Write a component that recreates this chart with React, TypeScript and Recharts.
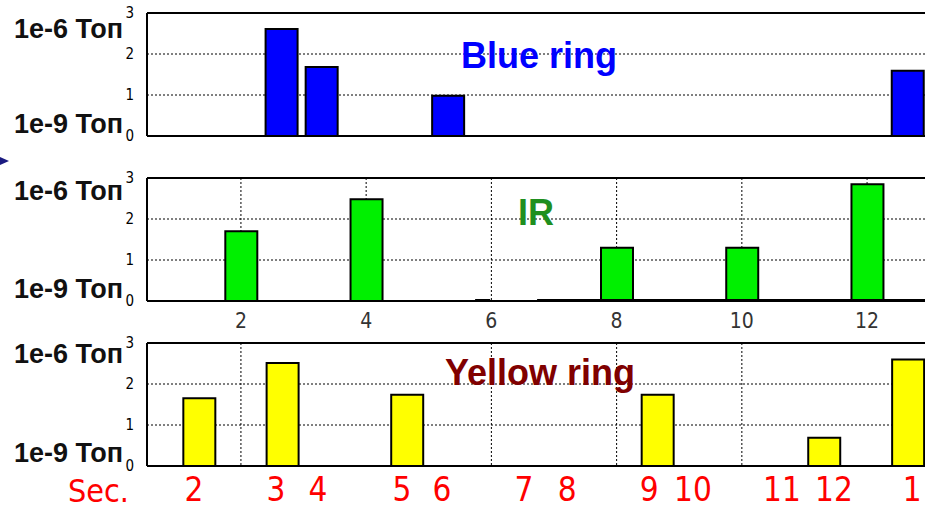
import React from "react";
import { BarChart, Bar, XAxis, YAxis, CartesianGrid, ReferenceLine } from "recharts";

// sector positions (x) and pressure readings (y)
const blueSectors = [2.65, 3.29, 5.31, 12.65];
const blueValues = [2.61, 1.68, 0.98, 1.59];
const irSectors = [2, 4, 8, 10, 12];
const irValues = [1.7, 2.48, 1.3, 1.3, 2.85];
const yellowSectors = [1.33, 2.66, 4.65, 8.65, 11.31, 12.65];
const yellowValues = [1.65, 2.51, 1.74, 1.74, 0.69, 2.6];

const yTicks = [0, 1, 2, 3];
const irTicks = [2, 4, 6, 8, 10, 12];
const sectorTicks = [1.25, 2.56, 3.23, 4.57, 5.21, 6.52, 7.21, 8.52, 9.22, 10.64, 11.47, 12.72];
const sectorLabels = ["2", "3", "4", "5", "6", "7", "8", "9", "10", "11", "12", "1"];
const gridAll = [2, 4, 6, 8, 10, 12];
const gridYellow = [2, 6, 8, 10];
const irBaseSegments = [
  [5.74, 5.98],
  [6.73, 13.5],
];

const narrow = "'Liberation Sans Narrow', 'Arial Narrow', 'DejaVu Sans Condensed', sans-serif";
const sans = "'Liberation Sans', Arial, sans-serif";
const xDomain = [0.5, 13.5];

const toRows = (xs: number[], ys: number[]) => xs.map((x, i) => ({ x, v: ys[i] }));

type PanelProps = {
  rows: { x: number; v: number }[];
  fill: string;
  grid: number[];
  top: number;
  height: number;
  kind: "none" | "ir" | "sector";
  children?: React.ReactNode;
};

function Panel({ rows, fill, grid, top, height, kind, children }: PanelProps) {
  // plot area is always 13px from the top and 123px tall
  const xAxisHeight = height - 13 - 123;
  return (
    <div style={{ position: "absolute", left: 0, top }}>
      <BarChart width={961} height={height} data={rows} margin={{ top: 13, right: 0, bottom: 0, left: 0 }}>
        <CartesianGrid
          stroke="#000"
          strokeDasharray="2 2"
          horizontalValues={[1, 2]}
          verticalValues={grid}
        />
        <XAxis
          dataKey="x"
          type="number"
          domain={xDomain}
          allowDataOverflow
          height={xAxisHeight}
          axisLine={{ stroke: "#000", strokeWidth: 2 }}
          tickLine={false}
          interval={0}
          ticks={kind === "ir" ? irTicks : kind === "sector" ? sectorTicks : []}
          tick={
            kind === "none"
              ? false
              : kind === "ir"
              ? { fill: "#333", fontSize: 21, fontFamily: narrow }
              : { fill: "#ff0000", fontSize: 33, fontFamily: narrow }
          }
          tickFormatter={(v: number, i: number) => (kind === "sector" ? sectorLabels[i] : String(v))}
          tickSize={6}
          tickMargin={6}
        />
        <YAxis
          type="number"
          domain={[0, 3]}
          ticks={yTicks}
          width={147}
          axisLine={{ stroke: "#000", strokeWidth: 2 }}
          tickLine={false}
          tickSize={7}
          tickMargin={6}
          tick={{ fill: "#000", fontSize: 15, fontFamily: narrow }}
        />
        <ReferenceLine y={3} stroke="#000" strokeWidth={2} />
        {children}
        <Bar dataKey="v" fill={fill} stroke="#000" strokeWidth={2} barSize={32} isAnimationActive={false} />
      </BarChart>
    </div>
  );
}

export default function App() {
  return (
    <div
      style={{
        position: "absolute",
        left: 0,
        top: 0,
        width: 925,
        height: 509,
        overflow: "hidden",
        background: "#fff",
      }}
    >
      <Panel rows={toRows(blueSectors, blueValues)} fill="#0000ff" grid={gridAll} top={0} height={165} kind="none" />
      <Panel rows={toRows(irSectors, irValues)} fill="#00f000" grid={gridAll} top={165} height={180} kind="ir">
        {irBaseSegments.map(([a, b], i) => (
          <ReferenceLine
            key={i}
            segment={[
              { x: a, y: 0 },
              { x: b, y: 0 },
            ]}
            stroke="#000"
            strokeWidth={4}
            ifOverflow="hidden"
          />
        ))}
      </Panel>
      <Panel rows={toRows(yellowSectors, yellowValues)} fill="#ffff00" grid={gridYellow} top={330} height={179} kind="sector" />

      <svg width={925} height={509} style={{ position: "absolute", left: 0, top: 0, pointerEvents: "none" }}>
        <g fontFamily={sans} fontWeight="bold" fontSize={27} fill="#111">
          <text x={14} y={38}>1e-6 Топ</text>
          <text x={14} y={133}>1e-9 Топ</text>
          <text x={14} y={200}>1e-6 Топ</text>
          <text x={14} y={298}>1e-9 Топ</text>
          <text x={14} y={363}>1e-6 Топ</text>
          <text x={14} y={462}>1e-9 Топ</text>
        </g>
        <g fontFamily={sans} fontWeight="bold" fontSize={36} textAnchor="middle">
          <text x={539} y={68} fill="#0000ff">Blue ring</text>
          <text x={536} y={225} fill="#1f8f1f">IR</text>
          <text x={540} y={385} fill="#800000">Yellow ring</text>
        </g>
        <text x={68} y={502} fontFamily={narrow} fontSize={32} fill="#ff0000">Sec.</text>
        <polygon points="0,157 9,161 0,165" fill="#1a1a80" />
      </svg>
    </div>
  );
}
